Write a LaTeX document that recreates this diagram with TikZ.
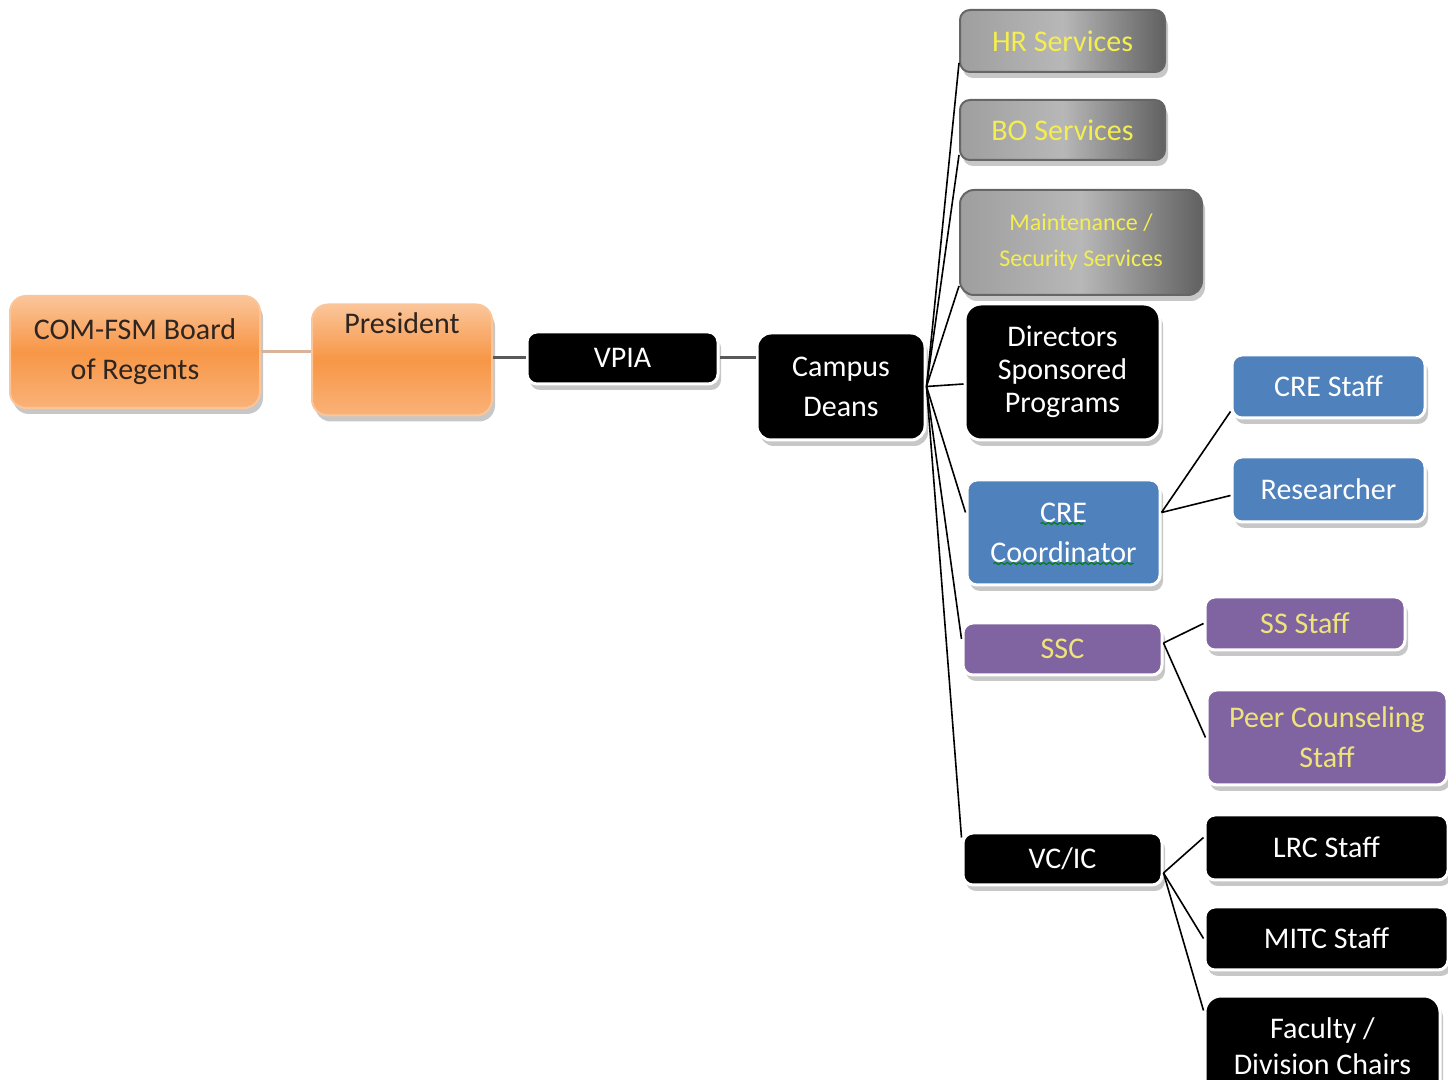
\documentclass[tikz,border=0pt]{standalone}
\usepackage{fontspec}
\setmainfont{Carlito}
\usetikzlibrary{shadows,calc,decorations.pathmorphing}
\definecolor{OrM}{HTML}{F79646}
\definecolor{OrL}{HTML}{FBC59A}
\definecolor{BlueB}{HTML}{4F81BD}
\definecolor{PurB}{HTML}{8064A2}
\definecolor{YelT}{HTML}{F4EE50}
\definecolor{YelP}{HTML}{EFE47A}
\definecolor{DarkT}{HTML}{2E2520}
\definecolor{TanL}{HTML}{D9B49A}
\begin{document}
\begin{tikzpicture}[x=0.5pt,y=-0.5pt,
  base/.style={rounded corners=5pt, draw=white, line width=1.5pt, align=center, inner sep=2pt,
    font=\fontsize{15}{20}\selectfont,
    drop shadow={shadow xshift=1.5pt, shadow yshift=-3pt, fill=black!40, opacity=0.55}},
  orangebox/.style={base, rounded corners=8pt, draw=OrL, line width=1pt, top color=OrL, bottom color=OrL!60!OrM, middle color=OrM, text=DarkT},
  blackbox/.style={base, fill=black, text=white},
  bluebox/.style={base, fill=BlueB, text=white},
  purplebox/.style={base, fill=PurB, text=YelP},
  graybox/.style={base, draw=black!60, line width=1pt, left color=black!38, right color=black!62, middle color=black!28, text=YelT},
  link/.style={black, line width=0.8pt},
  spell/.style={green!50!black, line width=0.6pt, decorate, decoration={snake, amplitude=0.5pt, segment length=3pt}}
]
\useasboundingbox (0,0) rectangle (1448,1080);

% left chain
\node[orangebox, minimum width=125pt, minimum height=56pt] (board) at (135,352) {COM-FSM Board\\of Regents};
\node[orangebox, minimum width=90pt, minimum height=55.5pt, text height=10pt, text depth=36pt] (pres) at (402,360) {President};
\node[blackbox, minimum width=95.5pt, minimum height=26pt] (vpia) at (622.5,358) {VPIA};
\node[blackbox, rounded corners=7pt, minimum width=84pt, minimum height=53.5pt] (deans) at (841,386.5) {Campus\\Deans};

% column of units
\node[graybox, minimum width=102.5pt, minimum height=31pt] (hr) at (1062.5,41) {HR Services};
\node[graybox, minimum width=102.5pt, minimum height=30pt] (bo) at (1062.5,130) {BO Services};
\node[graybox, rounded corners=7pt, minimum width=121pt, minimum height=52.5pt, font=\fontsize{12}{18}\selectfont] (maint) at (1081,242.5) {Maintenance /\\Security Services};
\node[blackbox, rounded corners=8pt, minimum width=97.5pt, minimum height=68pt, font=\fontsize{15}{16.5}\selectfont] (dir) at (1062.5,372) {Directors\\Sponsored\\Programs};
\node[bluebox, minimum width=96.5pt, minimum height=52.5pt] (crec) at (1063.5,532.5) {CRE\\Coordinator};
\node[purplebox, minimum width=99.5pt, minimum height=26pt] (ssc) at (1062.5,649) {SSC};
\node[blackbox, minimum width=99.5pt, minimum height=26pt] (vcic) at (1062.5,859) {VC/IC};

% third level
\node[bluebox, minimum width=96.5pt, minimum height=31.5pt] (cres) at (1328.5,386.5) {CRE Staff};
\node[bluebox, minimum width=96.5pt, minimum height=32.5pt] (res) at (1328.5,489.5) {Researcher};
\node[purplebox, minimum width=100pt, minimum height=26.5pt] (sss) at (1305,623.5) {SS Staff};
\node[purplebox, minimum width=120pt, minimum height=47.5pt] (peer) at (1327,737.5) {Peer Counseling\\Staff};
\node[blackbox, minimum width=121.5pt, minimum height=32.5pt] (lrc) at (1326.5,847.5) {LRC Staff};
\node[blackbox, minimum width=121.5pt, minimum height=31.5pt] (mitc) at (1326.5,938.5) {MITC Staff};
\node[blackbox, rounded corners=8pt, minimum width=117.5pt, minimum height=50pt, font=\fontsize{15}{18}\selectfont] (fac) at (1322.5,1046) {Faculty /\\Division Chairs};

% spell-check underlines
\draw[spell] ($(crec.center)+(-23,-9)$) -- ($(crec.center)+(20,-9)$);
\draw[spell] ($(crec.center)+(-70,31)$) -- ($(crec.center)+(70,31)$);

% connectors along the top chain
\draw[TanL, line width=1.5pt] (board.east) -- (board.east -| pres.west);
\draw[gray!70!black, line width=1.5pt] (vpia.west -| pres.east) -- (vpia.west);
\draw[gray!70!black, line width=1.5pt] (vpia.east) -- (vpia.east -| deans.west);

% fan from Campus Deans
\coordinate (dhub) at (deans.east);
\draw[link] (dhub) -- ([yshift=5pt]hr.south west);
\draw[link] (dhub) -- ([yshift=3pt]bo.south west);
\draw[link] (dhub) -- ([yshift=5pt]maint.south west);
\draw[link] (dhub) -- ([yshift=-6pt]dir.west);
\draw[link] (dhub) -- ([yshift=10pt]crec.west);
\draw[link] (dhub) -- ([yshift=5pt]ssc.west);
\draw[link] (dhub) -- ([yshift=-3pt]vcic.north west);

% fan from CRE Coordinator
\coordinate (chub) at ([yshift=10pt]crec.east);
\draw[link] (chub) -- ([yshift=4pt]cres.south west);
\draw[link] (chub) -- ([yshift=-3pt]res.west);

% fan from SSC
\coordinate (shub) at ([yshift=3pt]ssc.east);
\draw[link] (shub) -- (sss.west);
\draw[link] (shub) -- (peer.west);

% fan from VC/IC
\coordinate (vhub) at ([yshift=-7pt]vcic.east);
\draw[link] (vhub) -- ([yshift=5pt]lrc.west);
\draw[link] (vhub) -- (mitc.west);
\draw[link] (vhub) -- ([yshift=-8pt]fac.north west);
\end{tikzpicture}
\end{document}
